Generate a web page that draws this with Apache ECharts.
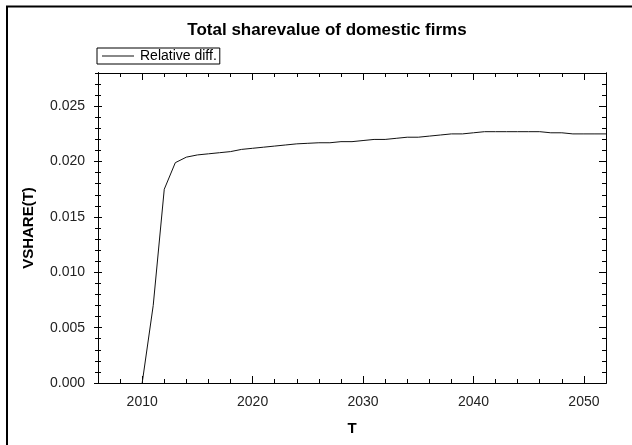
<!DOCTYPE html>
<html>
<head>
<meta charset="utf-8">
<script src="https://cdn.jsdelivr.net/npm/echarts@6/dist/echarts.min.js"></script>
<style>html,body{margin:0;padding:0;background:#fff;}#c{width:632px;height:445px;}</style>
</head>
<body>
<div id="c"></div>
<script>
const titleText = 'Total sharevalue of domestic firms';
const seriesName = 'Relative diff.';
const xName = 'T';
const yName = 'VSHARE(T)';
const years = [2010,2011,2012,2013,2014,2015,2016,2017,2018,2019,2020,2021,2022,2023,2024,2025,2026,2027,2028,2029,2030,2031,2032,2033,2034,2035,2036,2037,2038,2039,2040,2041,2042,2043,2044,2045,2046,2047,2048,2049,2050,2051,2052];
const values = [0,0.0070,0.0175,0.0199,0.0204,0.0206,0.0207,0.0208,0.0209,0.0211,0.0212,0.0213,0.0214,0.0215,0.0216,0.02165,0.0217,0.0217,0.0218,0.0218,0.0219,0.0220,0.0220,0.0221,0.0222,0.0222,0.0223,0.0224,0.0225,0.0225,0.0226,0.0227,0.0227,0.0227,0.0227,0.0227,0.0227,0.0226,0.0226,0.0225,0.0225,0.0225,0.0225];
const xMajorTicks = [2010,2020,2030,2040,2050];
const yMajorTicks = [0,0.005,0.010,0.015,0.020,0.025];

const chart = echarts.init(document.getElementById('c'));
const font = 'Arial, "Liberation Sans", sans-serif';
const X_MIN = 2006, X_MAX = 2052, Y_MIN = 0, Y_MAX = 0.028;
const lineStyle = {color:'#000', width:1};
function xAx(pos, opts) {
  return Object.assign({
    type:'value', min:X_MIN, max:X_MAX, position:pos, gridIndex:0,
    axisLine:{show:true, onZero:false, lineStyle}, splitLine:{show:false},
    axisLabel:{show:false}
  }, opts);
}
function yAx(pos, opts) {
  return Object.assign({
    type:'value', min:Y_MIN, max:Y_MAX, position:pos, gridIndex:0,
    axisLine:{show:true, onZero:false, lineStyle}, splitLine:{show:false},
    axisLabel:{show:false}
  }, opts);
}
const option = {
  animation:false,
  backgroundColor:'#fff',
  title:{text:titleText, left:322, top:17, textAlign:'center',
    textStyle:{fontFamily:font, fontSize:17, fontWeight:'bold', color:'#000'}},
  legend:{left:97, top:48, data:[{name:seriesName, icon:'path://M0,0 L32,0 L32,1 L0,1 Z'}],
    borderColor:'#000', borderWidth:1,
    padding:[1,3,1,5], itemWidth:32, itemHeight:1, itemGap:0,
    textStyle:{fontFamily:font, fontSize:14, color:'#000', padding:[0,0,0,1]}},
  grid:{left:98, right:26, top:73, bottom:62, containLabel:false},
  graphic:[
    {type:'polyline', shape:{points:[[7,445],[7,6.5],[632,6.5]]}, style:{stroke:'#000', lineWidth:2, fill:null}}
  ],
  xAxis:[
    xAx('bottom', {interval:2, name:xName, nameLocation:'middle', nameGap:38,
      nameTextStyle:{fontFamily:font, fontSize:15, fontWeight:'bold', color:'#000'},
      axisTick:{show:true, inside:true, length:4, lineStyle},
      axisLabel:{show:true, margin:12, fontFamily:font, fontSize:14, color:'#222',
        formatter:v => (v % 10 === 0 ? String(v) : '')}}),
    xAx('bottom', {axisTick:{show:true, inside:true, length:7, customValues:xMajorTicks, lineStyle}}),
    xAx('top', {interval:2, axisTick:{show:true, inside:true, length:4, lineStyle}}),
    xAx('top', {axisTick:{show:true, inside:true, length:7, customValues:xMajorTicks, lineStyle}})
  ],
  yAxis:[
    yAx('left', {interval:0.001, name:yName, nameLocation:'middle', nameGap:62,
      nameTextStyle:{fontFamily:font, fontSize:15, fontWeight:'bold', color:'#000'},
      axisTick:{show:true, inside:true, length:3, lineStyle},
      axisLabel:{show:true, margin:13, fontFamily:font, fontSize:14, color:'#222',
        formatter:v => { const r = Math.round(v*1000); return r % 5 === 0 ? (r/1000).toFixed(3) : ''; }}}),
    yAx('left', {interval:0.001, axisTick:{show:true, inside:false, length:3, lineStyle}}),
    yAx('left', {axisTick:{show:true, inside:true, length:4, customValues:yMajorTicks, lineStyle}}),
    yAx('left', {axisTick:{show:true, inside:false, length:4, customValues:yMajorTicks, lineStyle}}),
    yAx('right', {interval:0.001, axisTick:{show:true, inside:true, length:4, lineStyle}}),
    yAx('right', {axisTick:{show:true, inside:true, length:7, customValues:yMajorTicks, lineStyle}})
  ],
  series:[{
    name:seriesName, type:'line', xAxisIndex:0, yAxisIndex:0,
    data: years.map((y,i) => [y, values[i]]),
    symbol:'none', lineStyle:{color:'#111', width:1}, itemStyle:{color:'#111'}, clip:true
  }]
};
chart.setOption(option);
</script>
</body>
</html>
